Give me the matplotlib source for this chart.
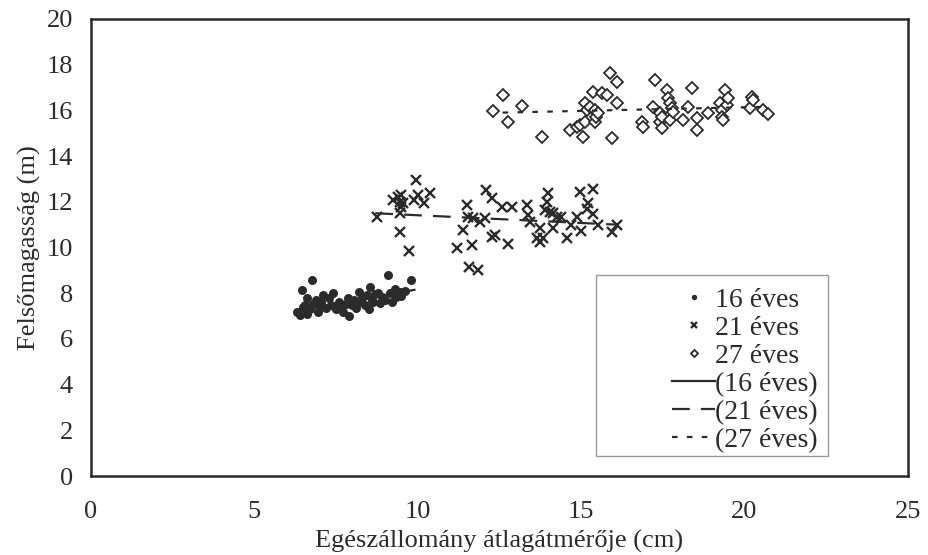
import matplotlib.pyplot as plt
from matplotlib.patches import Rectangle

plt.rcParams["font.family"] = ["Liberation Serif", "DejaVu Serif"]

# 16 éves
x16 = [6.3, 6.4, 6.45, 6.5, 6.55, 6.6, 6.6, 6.7, 6.75, 6.8, 6.9, 6.95, 7.0, 7.05,
       7.1, 7.2, 7.3, 7.35, 7.4, 7.5, 7.6, 7.65, 7.7, 7.8, 7.86, 7.9, 8.0, 8.05,
       8.1, 8.2, 8.25, 8.3, 8.4, 8.45, 8.5, 8.55, 8.6, 8.63, 8.7, 8.8, 8.85, 8.9,
       9.0, 9.1, 9.15, 9.2, 9.3, 9.35, 9.45, 9.5, 9.6, 9.8]
y16 = [7.2, 7.05, 8.14, 7.4, 7.48, 7.78, 7.1, 7.3, 8.58, 7.55, 7.7, 7.2, 7.41, 7.6,
       7.92, 7.35, 7.79, 7.5, 8.0, 7.3, 7.6, 7.45, 7.18, 7.55, 7.79, 7.0, 7.48, 7.7,
       7.35, 8.05, 7.6, 7.79, 7.5, 7.92, 7.3, 8.27, 7.7, 7.6, 7.95, 8.0, 7.57, 7.85,
       7.7, 8.8, 8.0, 7.6, 8.2, 7.83, 8.05, 7.9, 8.1, 8.58]

# 21 éves
x21 = [8.75, 9.25, 9.4, 9.45, 9.5, 9.55, 9.5, 9.45, 9.45, 9.73, 9.9, 9.96, 10.0,
       10.2, 10.37, 11.2, 11.4, 11.5, 11.53, 11.57, 11.66, 11.7, 11.85, 11.9, 12.06,
       12.1, 12.27, 12.27, 12.36, 12.58, 12.76, 12.9, 13.34, 13.37, 13.43, 13.64,
       13.74, 13.74, 13.84, 13.9, 13.95, 14.0, 14.05, 14.14, 14.15, 14.26, 14.4,
       14.57, 14.7, 14.87, 14.96, 15.0, 15.17, 15.2, 15.36, 15.37, 15.52, 15.94, 16.1]
y21 = [11.33, 12.08, 12.2, 12.0, 12.3, 11.94, 11.78, 11.5, 10.68, 9.85, 12.08, 12.95,
       12.3, 11.94, 12.37, 9.98, 10.77, 11.86, 11.33, 9.15, 10.11, 11.29, 9.02, 11.1,
       11.29, 12.5, 12.17, 10.46, 10.55, 11.78, 10.15, 11.78, 11.86, 11.42, 11.1,
       10.42, 10.85, 10.24, 10.42, 11.64, 12.0, 12.37, 11.55, 10.85, 11.5, 11.33,
       11.33, 10.42, 10.98, 11.33, 12.43, 10.72, 11.68, 11.94, 12.56, 11.47, 10.98,
       10.68, 10.98]

# 27 éves
x27 = [12.3, 12.6, 12.77, 13.19, 13.8, 14.66, 14.87, 14.96, 15.06, 15.12, 15.12,
       15.17, 15.27, 15.37, 15.42, 15.42, 15.47, 15.52, 15.63, 15.79, 15.88, 15.94,
       16.1, 16.1, 16.86, 16.89, 17.2, 17.26, 17.41, 17.41, 17.47, 17.47, 17.63,
       17.66, 17.72, 17.72, 17.78, 17.81, 18.12, 18.27, 18.39, 18.54, 18.54, 18.88,
       19.25, 19.31, 19.31, 19.34, 19.4, 19.46, 19.5, 20.17, 20.23, 20.26, 20.56, 20.72]
y27 = [15.97, 16.67, 15.49, 16.19, 14.84, 15.14, 15.27, 15.36, 14.84, 15.49, 16.32,
       16.02, 16.15, 16.8, 16.02, 15.49, 15.71, 15.89, 16.76, 16.67, 17.64, 14.79,
       17.24, 16.32, 15.49, 15.27, 16.15, 17.33, 15.89, 15.49, 15.71, 15.23, 16.89,
       16.54, 16.32, 15.58, 16.1, 15.93, 15.58, 16.15, 16.98, 15.67, 15.14, 15.89,
       16.32, 16.02, 15.71, 15.58, 16.89, 16.23, 16.54, 16.1, 16.59, 16.45, 16.02, 15.84]

# trend lines (end points)
trend16_x = [6.5, 9.9]
trend16_y = [7.3, 8.15]
trend21_x = [8.7, 16.1]
trend21_y = [11.5, 11.0]
trend27_x = [12.6, 20.5]
trend27_y = [15.9, 16.15]

ink = "#2b2b2b"

fig = plt.figure(figsize=(9.29, 5.55), dpi=100)
ax = fig.add_axes([0.098, 0.142, 0.879, 0.824])

ax.plot(x16, y16, "o", color=ink, ms=6.5, mew=0, label="16 éves")
ax.plot(x21, y21, "x", color=ink, ms=6.5, mew=1.7, label="21 éves")
ax.plot(x27, y27, "D", mfc="white", mec=ink, ms=6, mew=1.3, label="27 éves")
ax.plot(trend16_x, trend16_y, "-", color=ink, lw=1.6, label="(16 éves)")
ax.plot(trend21_x, trend21_y, "--", color=ink, lw=1.6, dashes=(8, 5), label="(21 éves)")
ax.plot(trend27_x, trend27_y, "--", color=ink, lw=1.6, dashes=(2.5, 4.2), label="(27 éves)")

ax.set_xlim(0, 25)
ax.set_ylim(0, 20)
ax.set_xticks([0, 5, 10, 15, 20, 25])
ax.set_yticks(range(0, 21, 2))
ax.tick_params(axis="x", length=0, pad=18, labelsize=19, colors=ink)
ax.tick_params(axis="y", length=0, pad=13, labelsize=19, colors=ink)
for s in ax.spines.values():
    s.set_linewidth(1.8)
    s.set_color(ink)

ax.set_xlabel("Egészállomány átlagátmérője (cm)", fontsize=19, color=ink, labelpad=5)
ax.set_ylabel("Felsőmagasság (m)", fontsize=19, color=ink, labelpad=4)

# legend frame drawn as its own box, entries sit at its right side
ax.add_patch(Rectangle((0.618, 0.044), 0.284, 0.396, transform=ax.transAxes,
                       fill=False, edgecolor="#9a9a9a", lw=1.0, zorder=4))
leg = ax.legend(loc="lower right", bbox_to_anchor=(0.894, 0.044), fontsize=20,
                frameon=False, handlelength=1.55, handletextpad=0.0,
                labelspacing=0.09, borderpad=0.12, borderaxespad=0.0, markerscale=0.6)
for t in leg.get_texts():
    t.set_color(ink)

plt.savefig("out.png", dpi=100)
